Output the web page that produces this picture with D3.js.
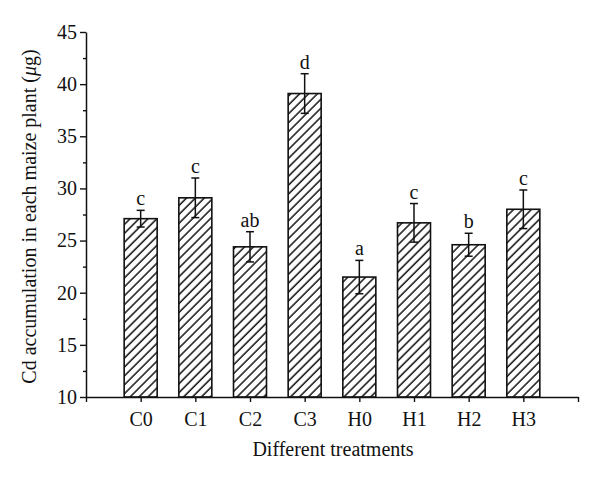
<!DOCTYPE html>
<html>
<head>
<meta charset="utf-8">
<script src="https://cdn.jsdelivr.net/npm/d3@7"></script>
<style>
  body { margin: 0; background: #fff; }
  svg text { font-family: "Liberation Serif", "DejaVu Serif", serif; fill: #111; }
</style>
</head>
<body>
<div id="chart"></div>
<script>
// ── DATA ───────────────────────────────────────────────────────
const treatments = ["C0", "C1", "C2", "C3", "H0", "H1", "H2", "H3"];
const means      = [27.1, 29.1, 24.4, 39.1, 21.5, 26.7, 24.6, 28.0];
const errors     = [0.8, 1.9, 1.45, 1.9, 1.6, 1.85, 1.1, 1.85];
const letters    = ["c", "c", "ab", "d", "a", "c", "b", "c"];
const yTicks     = [10, 15, 20, 25, 30, 35, 40, 45];

// ── DIMENSIONS ─────────────────────────────────────────────────
const W = 600, H = 484;
const x0 = 86, x1 = 578, yTop = 32, yBot = 397;
const fontPx = "20px";

const svg = d3.select("#chart").append("svg")
  .attr("width", W).attr("height", H);

// hatch pattern "/"
const defs = svg.append("defs");
defs.append("pattern")
  .attr("id", "hatch")
  .attr("patternUnits", "userSpaceOnUse")
  .attr("width", 6.3).attr("height", 6.3)
  .attr("patternTransform", "rotate(45)")
  .append("line")
    .attr("x1", 1).attr("y1", 0).attr("x2", 1).attr("y2", 6.3)
    .attr("stroke", "#111").attr("stroke-width", 1.5);

// ── SCALES ─────────────────────────────────────────────────────
const x = d3.scaleLinear().domain([0, treatments.length + 1]).range([x0, x1]);
const y = d3.scaleLinear().domain([10, 45]).range([yBot, yTop]);
const barW = 33;

// ── BARS ───────────────────────────────────────────────────────
const data = treatments.map((t, i) => ({ t, i, v: means[i], e: errors[i], l: letters[i] }));

svg.selectAll(".bar")
  .data(data)
  .join("rect")
    .attr("class", "bar")
    .attr("x", d => x(d.i + 1) - barW / 2)
    .attr("width", barW)
    .attr("y", d => y(d.v))
    .attr("height", d => y(10) - y(d.v))
    .attr("fill", "url(#hatch)")
    .attr("stroke", "#111")
    .attr("stroke-width", 1.6);

// error bars
const eb = svg.selectAll(".err").data(data).join("g").attr("class", "err")
  .attr("stroke", "#111").attr("stroke-width", 1.5);
eb.append("line")
  .attr("x1", d => x(d.i + 1)).attr("x2", d => x(d.i + 1))
  .attr("y1", d => y(d.v - d.e)).attr("y2", d => y(d.v + d.e));
eb.append("line")
  .attr("x1", d => x(d.i + 1) - 4).attr("x2", d => x(d.i + 1) + 4)
  .attr("y1", d => y(d.v + d.e)).attr("y2", d => y(d.v + d.e));
eb.append("line")
  .attr("x1", d => x(d.i + 1) - 4).attr("x2", d => x(d.i + 1) + 4)
  .attr("y1", d => y(d.v - d.e)).attr("y2", d => y(d.v - d.e));

// significance letters
svg.selectAll(".sig").data(data).join("text")
  .attr("class", "sig")
  .attr("x", d => x(d.i + 1))
  .attr("y", d => y(d.v + d.e) - 5)
  .attr("text-anchor", "middle")
  .attr("font-size", fontPx)
  .text(d => d.l);

// ── AXES ───────────────────────────────────────────────────────
svg.append("g")
  .attr("transform", `translate(${x0},0)`)
  .call(d3.axisLeft(y).tickValues(yTicks).tickSize(6).tickPadding(3).tickSizeOuter(0));
// minor ticks
svg.append("g")
  .attr("transform", `translate(${x0},0)`)
  .call(d3.axisLeft(y).tickValues(yTicks.slice(0, -1).map(v => v + 2.5)).tickSize(3).tickFormat("").tickSizeOuter(0))
  .select(".domain").remove();

svg.append("g")
  .attr("transform", `translate(0,${yBot})`)
  .call(d3.axisBottom(x)
    .tickValues(d3.range(0, treatments.length + 2))
    .tickFormat(i => (i >= 1 && i <= treatments.length) ? treatments[i - 1] : "")
    .tickSize(5).tickPadding(10).tickSizeOuter(0));

svg.selectAll(".domain").attr("stroke", "#111").attr("stroke-width", 1.5);
svg.selectAll(".tick line").attr("stroke", "#111").attr("stroke-width", 1.4);
svg.selectAll(".tick text")
  .attr("font-size", fontPx)
  .attr("font-family", "'Liberation Serif', serif")
  .attr("fill", "#111");

// axis titles
svg.append("text")
  .attr("x", (x0 + x1) / 2 + 1)
  .attr("y", 456)
  .attr("text-anchor", "middle")
  .attr("font-size", fontPx)
  .text("Different treatments");

const yt = svg.append("text")
  .attr("transform", `translate(36,${(yTop + yBot) / 2 + 2}) rotate(-90)`)
  .attr("text-anchor", "middle")
  .attr("font-size", fontPx);
yt.append("tspan").text("Cd accumulation in each maize plant (");
yt.append("tspan").attr("font-style", "italic").text("μ");
yt.append("tspan").text("g)");
</script>
</body>
</html>
